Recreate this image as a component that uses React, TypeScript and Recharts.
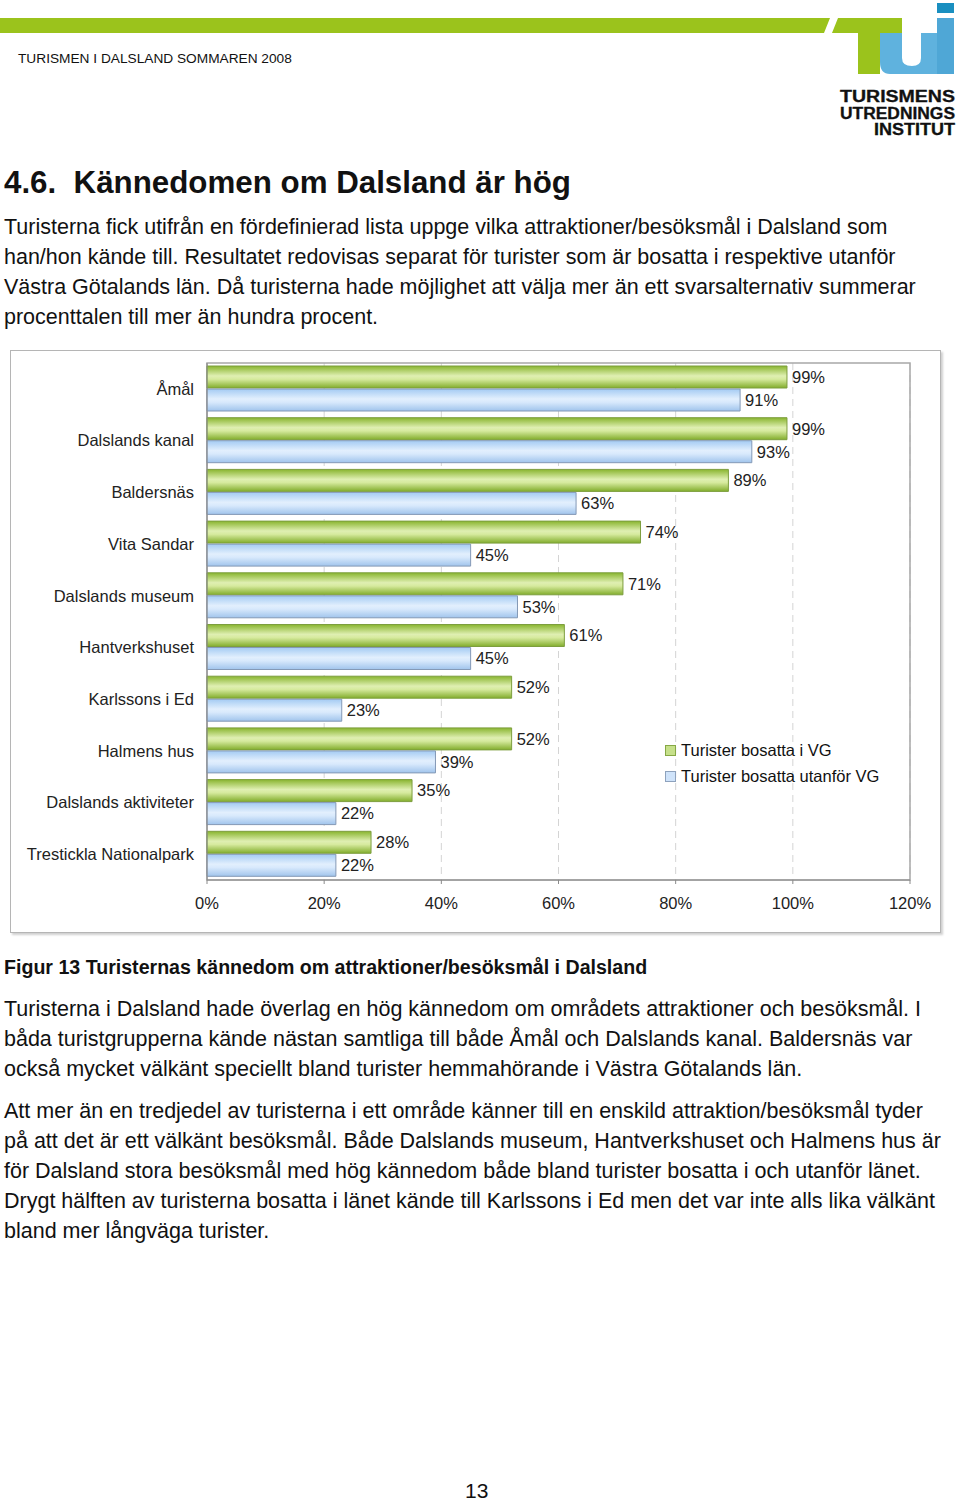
import React from 'react';
import {
  Bar,
  BarChart,
  CartesianGrid,
  LabelList,
  ReferenceArea,
  XAxis,
  YAxis,
} from 'recharts';

const categories = [
  'Åmål',
  'Dalslands kanal',
  'Baldersnäs',
  'Vita Sandar',
  'Dalslands museum',
  'Hantverkshuset',
  'Karlssons i Ed',
  'Halmens hus',
  'Dalslands aktiviteter',
  'Trestickla Nationalpark',
];
const insideVG = [99, 99, 89, 74, 71, 61, 52, 52, 35, 28];
const outsideVG = [91, 93, 63, 45, 53, 45, 23, 39, 22, 22];
const xTicks = [0, 20, 40, 60, 80, 100, 120];

const seriesNames = ['Turister bosatta i VG', 'Turister bosatta utanför VG'];

const data = categories.map((name, i) => ({
  name,
  vg: insideVG[i],
  outside: outsideVG[i],
}));

const FONT = '"Liberation Sans", Arial, Helvetica, sans-serif';

const headerLines = [
  'Turisterna fick utifrån en fördefinierad lista uppge vilka attraktioner/besöksmål i Dalsland som',
  'han/hon kände till. Resultatet redovisas separat för turister som är bosatta i respektive utanför',
  'Västra Götalands län. Då turisterna hade möjlighet att välja mer än ett svarsalternativ summerar',
  'procenttalen till mer än hundra procent.',
];

const para1 = [
  'Turisterna i Dalsland hade överlag en hög kännedom om områdets attraktioner och besöksmål. I',
  'båda turistgrupperna kände nästan samtliga till både Åmål och Dalslands kanal. Baldersnäs var',
  'också mycket välkänt speciellt bland turister hemmahörande i Västra Götalands län.',
];

const para2 = [
  'Att mer än en tredjedel av turisterna i ett område känner till en enskild attraktion/besöksmål tyder',
  'på att det är ett välkänt besöksmål. Både Dalslands museum, Hantverkshuset och Halmens hus är',
  'för Dalsland stora besöksmål med hög kännedom både bland turister bosatta i och utanför länet.',
  'Drygt hälften av turisterna bosatta i länet kände till Karlssons i Ed men det var inte alls lika välkänt',
  'bland mer långväga turister.',
];

const Lines = ({ lines, top, step = 30 }: { lines: string[]; top: number; step?: number }) => (
  <>
    {lines.map((t, i) => (
      <div
        key={i}
        style={{
          position: 'absolute',
          left: 4,
          top: top + i * step,
          fontSize: 21.5,
          lineHeight: '24px',
          whiteSpace: 'nowrap',
          color: '#111',
        }}
      >
        {t}
      </div>
    ))}
  </>
);

const LegendBox = () => (
  <div
    style={{
      position: 'absolute',
      left: 665,
      top: 737,
      fontFamily: FONT,
      fontSize: 16.5,
      color: '#111',
    }}
  >
    {seriesNames.map((n, i) => (
      <div key={n} style={{ display: 'flex', alignItems: 'center', height: 26 }}>
        <span
          style={{
            display: 'inline-block',
            width: 9,
            height: 9,
            marginRight: 5,
            border: i === 0 ? '1px solid #86a845' : '1px solid #8ea2bd',
            background: i === 0 ? '#c6e08a' : '#cfe3fa',
          }}
        />
        {n}
      </div>
    ))}
  </div>
);

const Logo = () => (
  <svg width={960} height={140} style={{ position: 'absolute', left: 0, top: 0 }}>
    <polygon points="0,18 830,18 824,33 0,33" fill="#9bc31c" />
    <polygon points="838,18 902,18 902,33 832,33" fill="#9bc31c" />
    <rect x={858} y={18} width={22} height={56} fill="#9bc31c" />
    <path d="M880,33 L902,33 L902,58 Q902,66 912,66 Q921,66 921,58 L921,33 L941,33 L941,74 L890,74 Q880,74 880,62 Z" fill="#5fb2de" />
    <rect x={937} y={18} width={17} height={56} fill="#4fa7d6" />
    <rect x={937} y={3} width={17} height={10} fill="#1a8fc0" />
    <text x={840} y={102} textLength={115} lengthAdjust="spacingAndGlyphs" fontFamily={FONT} fontWeight={900} fontSize={16} fill="#111" stroke="#111" strokeWidth={0.3}>TURISMENS</text>
    <text x={840} y={119} textLength={115} lengthAdjust="spacingAndGlyphs" fontFamily={FONT} fontWeight={900} fontSize={16} fill="#111" stroke="#111" strokeWidth={0.3}>UTREDNINGS</text>
    <text x={874} y={135} textLength={81} lengthAdjust="spacingAndGlyphs" fontFamily={FONT} fontWeight={900} fontSize={16} fill="#111" stroke="#111" strokeWidth={0.3}>INSTITUT</text>
    <text x={18} y={63} fontFamily={FONT} fontSize={13.7} fill="#111">TURISMEN I DALSLAND SOMMAREN 2008</text>
  </svg>
);

export default function App() {
  return (
    <div
      style={{
        position: 'absolute',
        left: 0,
        top: 0,
        width: 960,
        height: 1502,
        background: '#fff',
        fontFamily: FONT,
        overflow: 'hidden',
      }}
    >
      <Logo />
      <div
        style={{
          position: 'absolute',
          left: 4,
          top: 165,
          fontSize: 31.3,
          fontWeight: 'bold',
          whiteSpace: 'pre',
          color: '#111',
        }}
      >
        {'4.6.  Kännedomen om Dalsland är hög'}
      </div>
      <Lines lines={headerLines} top={215} />

      <div
        style={{
          position: 'absolute',
          left: 10,
          top: 350,
          width: 929,
          height: 581,
          border: '1px solid #b5b5b5',
          boxShadow: '2px 2px 2px #d0d0d0',
          background: '#fff',
        }}
      />
      <div style={{ position: 'absolute', left: 10, top: 350 }}>
        <BarChart
          width={930}
          height={582}
          data={data}
          layout="vertical"
          margin={{ top: 13, right: 30, bottom: 22, left: 0 }}
          barSize={22}
          barGap={1}
        >
          <defs>
            <linearGradient id="gGreen" x1="0" y1="0" x2="0" y2="1">
              <stop offset="0%" stopColor="#89b52f" />
              <stop offset="45%" stopColor="#dfefb2" />
              <stop offset="60%" stopColor="#d6ea9e" />
              <stop offset="100%" stopColor="#82ad2c" />
            </linearGradient>
            <linearGradient id="gBlue" x1="0" y1="0" x2="0" y2="1">
              <stop offset="0%" stopColor="#a4cbf3" />
              <stop offset="45%" stopColor="#e2effd" />
              <stop offset="60%" stopColor="#d8e9fc" />
              <stop offset="100%" stopColor="#a0c4ec" />
            </linearGradient>
          </defs>
          <CartesianGrid horizontal={false} stroke="#d4d4d4" strokeDasharray="7 5" />
          <ReferenceArea x1={0} x2={120} fill="none" stroke="#a8a8a8" strokeWidth={1.5} ifOverflow="visible" />
          <XAxis
            type="number"
            domain={[0, 120]}
            ticks={xTicks}
            tickFormatter={(v) => `${v}%`}
            stroke="#8a8a8a"
            tickSize={4}
            tickMargin={13}
            height={30}
            tick={{ fill: '#222', fontSize: 16.5, fontFamily: FONT }}
          />
          <YAxis
            type="category"
            dataKey="name"
            width={197}
            stroke="#8a8a8a"
            tickLine={false}
            tickSize={0}
            tickMargin={13}
            tick={{ fill: '#222', fontSize: 16.5, fontFamily: FONT }}
          />
          <Bar
            dataKey="vg"
            name={seriesNames[0]}
            fill="url(#gGreen)"
            stroke="#7d9e3e"
            strokeWidth={1}
            isAnimationActive={false}
          >
            <LabelList
              dataKey="vg"
              position="right"
              offset={5}
              formatter={(v: number) => `${v}%`}
              style={{ fill: '#222', fontSize: 16.5, fontFamily: FONT }}
            />
          </Bar>
          <Bar
            dataKey="outside"
            name={seriesNames[1]}
            fill="url(#gBlue)"
            stroke="#8499b6"
            strokeWidth={1}
            isAnimationActive={false}
          >
            <LabelList
              dataKey="outside"
              position="right"
              offset={5}
              formatter={(v: number) => `${v}%`}
              style={{ fill: '#222', fontSize: 16.5, fontFamily: FONT }}
            />
          </Bar>
        </BarChart>
      </div>
      <LegendBox />

      <div
        style={{
          position: 'absolute',
          left: 4,
          top: 956,
          fontSize: 19.6,
          fontWeight: 'bold',
          whiteSpace: 'nowrap',
          color: '#111',
        }}
      >
        Figur 13 Turisternas kännedom om attraktioner/besöksmål i Dalsland
      </div>
      <Lines lines={para1} top={997} />
      <Lines lines={para2} top={1099} />
      <div style={{ position: 'absolute', left: 465, top: 1479, fontSize: 21, color: '#111' }}>13</div>
    </div>
  );
}
